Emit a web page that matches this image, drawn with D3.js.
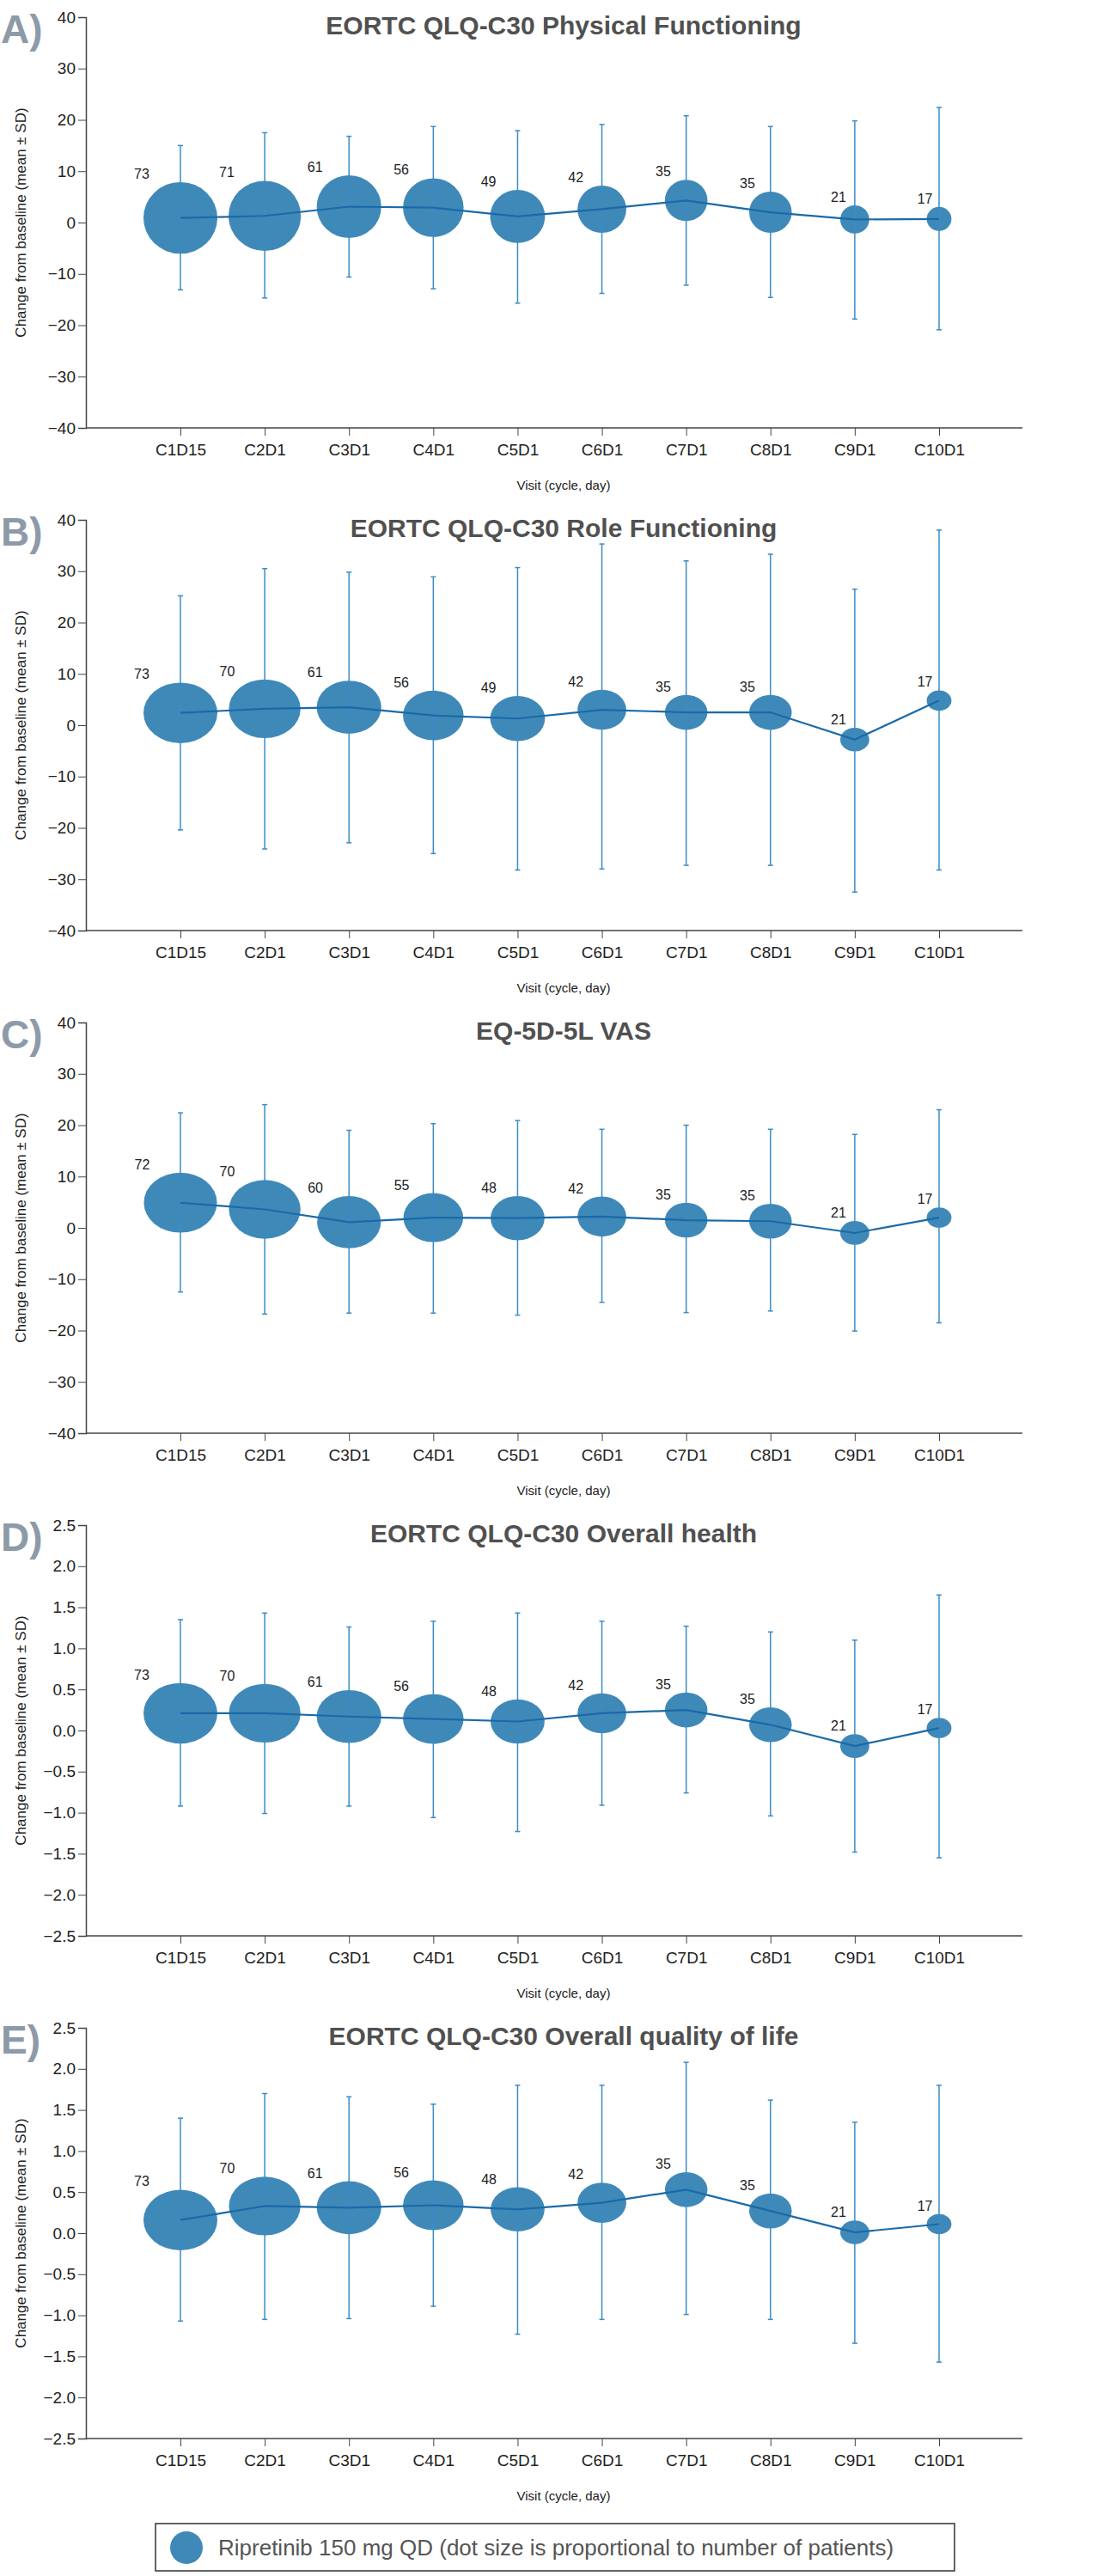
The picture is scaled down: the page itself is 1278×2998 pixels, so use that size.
<!DOCTYPE html>
<html><head><meta charset="utf-8">
<script src="https://cdn.jsdelivr.net/npm/d3@7"></script>
<style>body{margin:0;background:#fff}svg{display:block;font-family:"Liberation Sans",Arial,sans-serif}</style>
</head><body><svg id="c" width="1278" height="2998"></svg>
<script>
const visits=["C1D15","C2D1","C3D1","C4D1","C5D1","C6D1","C7D1","C8D1","C9D1","C10D1"];
const letters=["A)","B)","C)","D)","E)"];
const titles=["EORTC QLQ-C30 Physical Functioning","EORTC QLQ-C30 Role Functioning","EQ-5D-5L VAS","EORTC QLQ-C30 Overall health","EORTC QLQ-C30 Overall quality of life"];
const domains=[[-40,40],[-40,40],[-40,40],[-2.5,2.5],[-2.5,2.5]];
const tickSteps=[10,10,10,0.5,0.5];
const countsA=[73,71,61,56,49,42,35,35,21,17];
const countsB=[73,70,61,56,49,42,35,35,21,17];
const countsC=[72,70,60,55,48,42,35,35,21,17];
const countsD=[73,70,61,56,48,42,35,35,21,17];
const countsE=[73,70,61,56,48,42,35,35,21,17];
const meanA=[0.9,1.3,3.1,2.9,1.2,2.6,4.3,2.0,0.6,0.7];
const upA=[15.0,17.5,16.8,18.7,17.9,19.1,20.8,18.7,19.8,22.4];
const loA=[-13.1,-14.7,-10.6,-12.9,-15.7,-13.8,-12.2,-14.6,-18.8,-20.9];
const meanB=[2.4,3.2,3.5,1.9,1.3,3.0,2.5,2.5,-2.8,4.8];
const upB=[25.2,30.5,29.8,28.9,30.7,35.3,32.0,33.3,26.5,38.0];
const loB=[-20.4,-24.1,-22.9,-25.0,-28.2,-28.0,-27.3,-27.3,-32.5,-28.2];
const meanC=[4.9,3.6,1.1,2.0,1.9,2.2,1.5,1.3,-1.0,2.0];
const upC=[22.4,24.0,19.0,20.3,20.9,19.2,20.0,19.2,18.2,23.0];
const loC=[-12.5,-16.8,-16.6,-16.6,-17.0,-14.5,-16.5,-16.2,-20.1,-18.5];
const meanD=[0.21,0.21,0.17,0.14,0.11,0.21,0.25,0.07,-0.19,0.03];
const upD=[1.35,1.43,1.26,1.33,1.43,1.33,1.27,1.20,1.10,1.65];
const loD=[-0.92,-1.01,-0.92,-1.06,-1.23,-0.91,-0.76,-1.04,-1.48,-1.55];
const meanE=[0.16,0.33,0.31,0.34,0.29,0.37,0.53,0.27,0.01,0.11];
const upE=[1.40,1.70,1.66,1.57,1.80,1.80,2.08,1.62,1.35,1.80];
const loE=[-1.07,-1.05,-1.04,-0.89,-1.23,-1.05,-0.99,-1.05,-1.34,-1.57];
const legendText="Ripretinib 150 mg QD (dot size is proportional to number of patients)";

const counts=[countsA,countsB,countsC,countsD,countsE];
const means=[meanA,meanB,meanC,meanD,meanE];
const ups=[upA,upB,upC,upD,upE];
const los=[loA,loB,loC,loD,loE];

const svg=d3.select("#c");
const L=100,R=1190,P=585,H=478,T0=20;
const x=d3.scalePoint().domain(visits).range([210,1093]);
const rScale=d3.scalePow().exponent(0.75).domain([0,73]).range([0,43]);
const bubble="#3f89b9", line="#1a6aa8", err="#3b8cc6";

for(let p=0;p<5;p++){
  const top=T0+p*P;
  const g=svg.append("g");
  const y=d3.scaleLinear().domain(domains[p]).range([top+H,top]);
  const step=tickSteps[p];
  const ticks=d3.range(domains[p][0],domains[p][1]+step/2,step);
  const yAx=g.append("g").attr("transform",`translate(${L},0)`)
    .call(d3.axisLeft(y).tickValues(ticks).tickSize(9).tickFormat(step<1?d3.format(".1f"):d3.format("d")));
  const xAx=g.append("g").attr("transform",`translate(0,${top+H})`)
    .call(d3.axisBottom(x).tickSize(9).tickPadding(10));
  [yAx,xAx].forEach(a=>{a.select(".domain").attr("stroke","#444").attr("stroke-width",1.5);
    a.selectAll(".tick line").attr("stroke","#444");
    a.selectAll("text").attr("fill","#222").style("font-size","19px").style("font-family","Liberation Sans, Arial");});
  xAx.select(".domain").attr("d",`M${L},0H${R}`);
  g.append("text").attr("x",1).attr("y",top+30).text(letters[p])
    .attr("fill","#8d9aa8").style("font-size","46px").style("font-weight","bold");
  g.append("text").attr("x",656).attr("y",top+20).attr("text-anchor","middle").text(titles[p])
    .attr("fill","#505050").style("font-size","30px").style("font-weight","bold");
  g.append("text").attr("transform",`translate(30,${top+H/2}) rotate(-90)`).attr("text-anchor","middle")
    .text("Change from baseline (mean ± SD)").attr("fill","#222").style("font-size","17px");
  g.append("text").attr("x",656).attr("y",top+H+72).attr("text-anchor","middle")
    .text("Visit (cycle, day)").attr("fill","#222").style("font-size","15px");
  const ryk=p===0?0.97:0.82;
  const d=visits.map((v,i)=>({v,n:counts[p][i],m:means[p][i],u:ups[p][i],l:los[p][i]}));
  g.selectAll(".b").data(d).join("ellipse").attr("cx",e=>x(e.v)).attr("cy",e=>y(e.m))
    .attr("rx",e=>rScale(e.n)).attr("ry",e=>rScale(e.n)*ryk).attr("fill",bubble);
  g.selectAll(".e").data(d).join("line").attr("x1",e=>x(e.v)).attr("x2",e=>x(e.v))
    .attr("y1",e=>y(e.u)).attr("y2",e=>y(e.l)).attr("stroke",err).attr("stroke-width",1.5);
  ["u","l"].forEach(k=>g.selectAll(".c"+k).data(d).join("line").attr("x1",e=>x(e.v)-3).attr("x2",e=>x(e.v)+3)
    .attr("y1",e=>y(e[k])).attr("y2",e=>y(e[k])).attr("stroke",err).attr("stroke-width",1.5));
  g.append("path").datum(d).attr("fill","none").attr("stroke",line).attr("stroke-width",2.2)
    .attr("d",d3.line().x(e=>x(e.v)).y(e=>y(e.m)));
  g.selectAll(".n").data(d).join("text").attr("x",e=>x(e.v)-rScale(e.n)-2).attr("y",e=>y(e.m)-rScale(e.n)*ryk-4)
    .attr("text-anchor","middle").text(e=>e.n).attr("fill","#222").style("font-size","16px");
}
const lg=svg.append("g");
lg.append("rect").attr("x",181).attr("y",2937).attr("width",930).attr("height",55).attr("fill","#fff").attr("stroke","#333").attr("stroke-width",1.5);
lg.append("ellipse").attr("cx",217).attr("cy",2965).attr("rx",19).attr("ry",19).attr("fill",bubble);
lg.append("text").attr("x",254).attr("y",2974).text(legendText).attr("fill","#555").style("font-size","26px");
</script></body></html>
